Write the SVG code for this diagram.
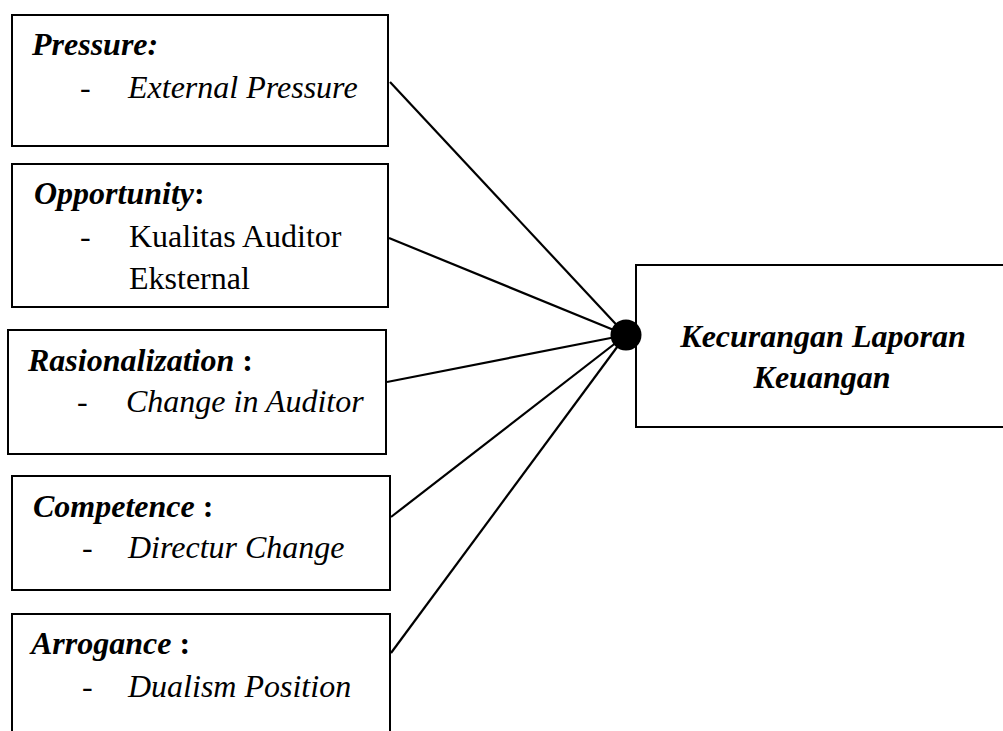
<svg xmlns="http://www.w3.org/2000/svg" width="1003" height="731" viewBox="0 0 1003 731">
<style>
.box{fill:#fff;stroke:#000;stroke-width:2}
.t{font-family:"Liberation Serif","Times New Roman",serif;font-size:32px;fill:#000}
.bi{font-weight:bold;font-style:italic}
.b{font-weight:bold;font-style:normal}
.i{font-style:italic}
.con line{stroke:#000;stroke-width:2.2}
</style>
<rect width="1003" height="731" fill="#fff"/>
<g id="connectors" class="con">
<line x1="390" y1="82" x2="626" y2="335"/>
<line x1="389" y1="238" x2="626" y2="335"/>
<line x1="387" y1="382" x2="626" y2="335"/>
<line x1="391" y1="517" x2="626" y2="335"/>
<line x1="391" y1="653" x2="626" y2="335"/>
</g>
<g id="pressure">
<rect class="box" x="12" y="15" width="376" height="131"/>
<text class="t bi" x="32" y="55">Pressure:</text>
<text class="t" x="80" y="98">-</text>
<text class="t i" x="128" y="98">External Pressure</text>
</g>
<g id="opportunity">
<rect class="box" x="12" y="164" width="376" height="143"/>
<text class="t" x="34" y="204"><tspan class="bi">Opportunity</tspan><tspan class="b">:</tspan></text>
<text class="t" x="80" y="247">-</text>
<text class="t" x="129" y="247">Kualitas Auditor</text>
<text class="t" x="129" y="289">Eksternal</text>
</g>
<g id="rationalization">
<rect class="box" x="8" y="330" width="378" height="124"/>
<text class="t" x="28" y="371"><tspan class="bi">Rasionalization</tspan><tspan class="b"> :</tspan></text>
<text class="t" x="77" y="412">-</text>
<text class="t i" x="126" y="412">Change in Auditor</text>
</g>
<g id="competence">
<rect class="box" x="12" y="476" width="378" height="114"/>
<text class="t" x="33" y="517"><tspan class="bi">Competence</tspan><tspan class="b"> :</tspan></text>
<text class="t" x="82" y="558">-</text>
<text class="t i" x="128" y="558">Directur Change</text>
</g>
<g id="arrogance">
<path d="M12,732 V614 H390 V732" fill="#fff" stroke="#000" stroke-width="2"/>
<text class="t" x="31" y="654"><tspan class="bi">Arrogance</tspan><tspan class="b"> :</tspan></text>
<text class="t" x="82" y="697">-</text>
<text class="t i" x="128" y="697">Dualism Position</text>
</g>
<g id="fraud">
<path d="M1004,265 H636 V427 H1004" fill="#fff" stroke="#000" stroke-width="2"/>
<text class="t bi" x="823" y="347" text-anchor="middle">Kecurangan Laporan</text>
<text class="t bi" x="822" y="388" text-anchor="middle">Keuangan</text>
</g>
<g id="junction">
<circle cx="626" cy="335" r="15.5" fill="#000"/>
</g>
</svg>
